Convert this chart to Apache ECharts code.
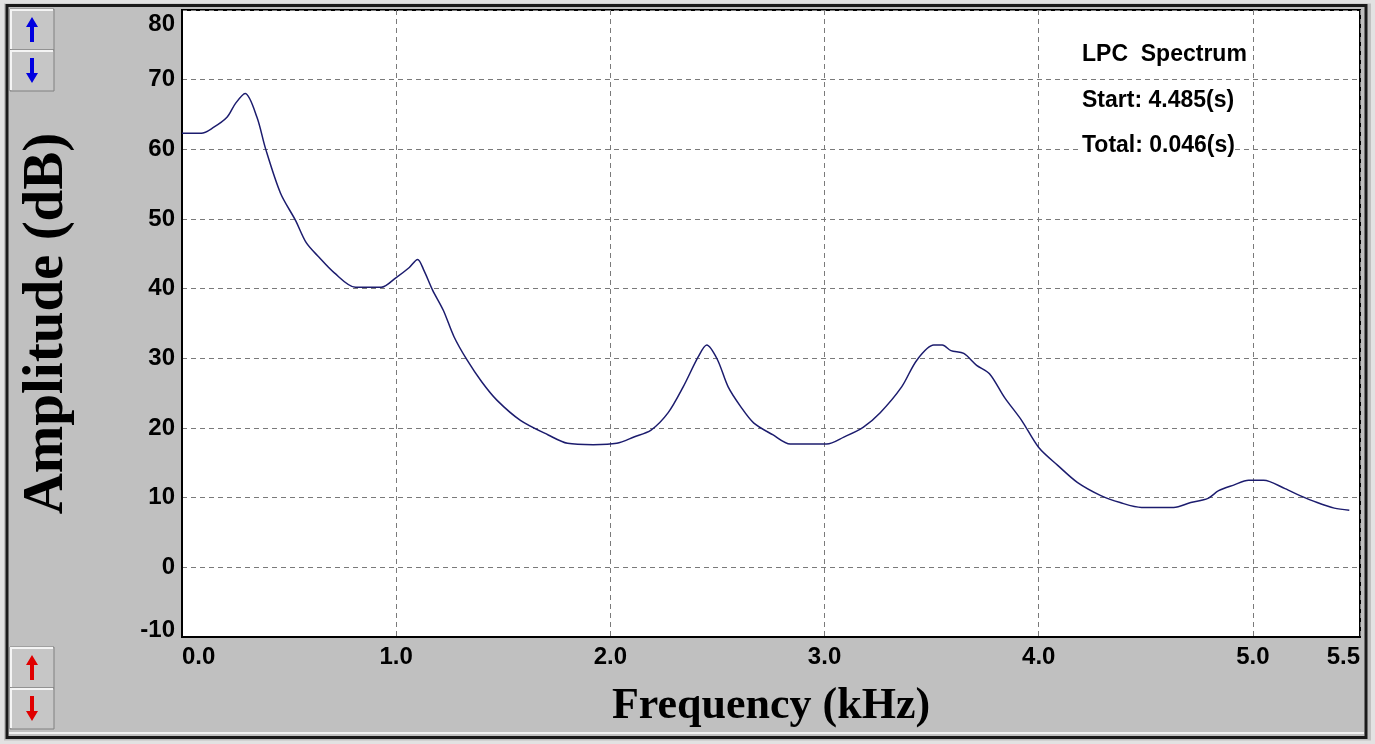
<!DOCTYPE html>
<html>
<head>
<meta charset="utf-8">
<title>LPC Spectrum</title>
<script src="https://cdn.jsdelivr.net/npm/echarts@6/dist/echarts.min.js"></script>
<style>
  html, body { margin: 0; padding: 0; background: #c0c0c0; }
  #main { width: 1375px; height: 744px; }
</style>
</head>
<body>
<div id="main"></div>
<script>
// 频率 (kHz) 与幅度 (dB)
var freqs = [0, 0.09, 0.145, 0.21, 0.25, 0.295, 0.35, 0.39, 0.46, 0.53, 0.58, 0.64, 0.71, 0.81, 0.93,
  1.0, 1.06, 1.10, 1.13, 1.17, 1.22, 1.27, 1.33, 1.40, 1.47, 1.58, 1.71, 1.80, 1.92, 2.03, 2.11,
  2.19, 2.27, 2.34, 2.41, 2.45, 2.50, 2.55, 2.61, 2.67, 2.76, 2.84, 3.01, 3.09, 3.18, 3.26, 3.36,
  3.43, 3.51, 3.55, 3.59, 3.65, 3.71, 3.77, 3.84, 3.92, 4.0, 4.09, 4.18, 4.29, 4.38, 4.48, 4.63,
  4.71, 4.79, 4.84, 4.91, 4.98, 5.05, 5.15, 5.22, 5.30, 5.38, 5.45];
var amps = [62.3, 62.3, 63.1, 64.6, 66.6, 68.0, 64.6, 60.1, 53.7, 49.8, 46.6, 44.5, 42.3, 40.2, 40.2,
  41.6, 43.0, 44.2, 42.6, 39.8, 36.9, 33.1, 29.8, 26.6, 24.0, 21.1, 19.0, 17.8, 17.6, 17.8, 18.7,
  19.7, 22.2, 25.9, 30.2, 31.9, 29.8, 25.9, 23.0, 20.7, 19.0, 17.7, 17.7, 18.7, 20.1, 22.2, 25.9,
  29.7, 31.9, 31.9, 31.1, 30.7, 29.0, 27.8, 24.4, 21.1, 17.2, 14.6, 12.2, 10.3, 9.3, 8.6, 8.6,
  9.3, 9.9, 11.0, 11.8, 12.5, 12.5, 11.3, 10.3, 9.3, 8.5, 8.2];
var infoLines = ['LPC  Spectrum', 'Start: 4.485(s)', 'Total: 0.046(s)'];

var labelFont = '"Liberation Sans", Arial, sans-serif';

// 窗口上的小按钮
function button(y, up, color) {
  var cx = 32, top = y + 8, bottom = y + 33;
  var pts = up
    ? [[cx, top], [cx + 6, top + 10], [cx + 2, top + 10], [cx + 2, bottom], [cx - 2, bottom], [cx - 2, top + 10], [cx - 6, top + 10]]
    : [[cx, bottom], [cx + 6, bottom - 10], [cx + 2, bottom - 10], [cx + 2, top], [cx - 2, top], [cx - 2, bottom - 10], [cx - 6, bottom - 10]];
  return {
    type: 'group',
    children: [
      { type: 'rect', shape: { x: 10, y: y, width: 44, height: 41 }, style: { fill: '#c6c6c6', stroke: '#808080', lineWidth: 1 } },
      { type: 'polyline', shape: { points: [[11, y + 40], [11, y + 1], [53, y + 1]] }, style: { stroke: '#f4f4f4', lineWidth: 2, fill: null } },
      { type: 'polygon', shape: { points: pts }, style: { fill: color } }
    ]
  };
}

var myChart = echarts.init(document.getElementById('main'));

var data = freqs.map(function (f, i) { return [f, amps[i]]; });

var option = {
  backgroundColor: '#c0c0c0',
  animation: false,
  grid: {
    left: 182, right: 15, top: 10, bottom: 107,
    show: true, backgroundColor: '#ffffff', borderColor: '#000', borderWidth: 2
  },
  xAxis: {
    type: 'value',
    min: 0, max: 5.5, interval: 1,
    name: 'Frequency (kHz)',
    nameLocation: 'middle',
    nameGap: 48,
    nameTextStyle: { fontFamily: '"Liberation Serif", serif', fontWeight: 'bold', fontSize: 44, color: '#000' },
    axisLine: { show: true, onZero: false, lineStyle: { color: '#000', width: 2 } },
    axisTick: { show: false },
    axisLabel: {
      fontFamily: labelFont, fontWeight: 'bold', fontSize: 24, color: '#000', margin: 8,
      alignMinLabel: 'left', alignMaxLabel: 'right',
      formatter: function (v) { return v.toFixed(1); }
    },
    splitLine: { show: true, lineStyle: { color: '#7a7a7a', type: [5, 4], width: 1 } }
  },
  yAxis: {
    type: 'value',
    min: -10, max: 80, interval: 10,
    name: 'Amplitude (dB)',
    nameLocation: 'middle',
    nameGap: 106,
    nameTextStyle: { fontFamily: '"Liberation Serif", serif', fontWeight: 'bold', fontSize: 57, color: '#000' },
    axisLine: { show: true, lineStyle: { color: '#000', width: 2 } },
    axisTick: { show: false },
    axisLabel: {
      fontFamily: labelFont, fontWeight: 'bold', fontSize: 24, color: '#000', margin: 7,
      // 两端的刻度字往里挪
      formatter: function (v) {
        if (v === 80) return '{top|' + v + '}';
        if (v === -10) return '{bot|' + v + '}';
        return String(v);
      },
      rich: {
        top: { fontFamily: labelFont, fontWeight: 'bold', fontSize: 24, color: '#000', padding: [28, 0, 0, 0] },
        bot: { fontFamily: labelFont, fontWeight: 'bold', fontSize: 24, color: '#000', padding: [0, 0, 14, 0] }
      }
    },
    splitLine: { show: true, lineStyle: { color: '#7a7a7a', type: [5, 4], width: 1 } }
  },
  graphic: [
    { type: 'rect', z: 100, shape: { x: 2, y: 1.5, width: 1371, height: 741 }, style: { fill: null, stroke: '#e2e2e2', lineWidth: 4 } },
    { type: 'rect', z: 100, shape: { x: 7, y: 5.5, width: 1359, height: 732 }, style: { fill: null, stroke: '#1a1a1a', lineWidth: 3 } },
    { type: 'line', z: 100, shape: { x1: 9, y1: 733, x2: 1364, y2: 733 }, style: { stroke: '#f0f0f0', lineWidth: 2 } },
    button(9, true, '#0000e0'),
    button(50, false, '#0000e0'),
    button(647, true, '#e00000'),
    button(688, false, '#e00000'),
    { type: 'text', z: 50, left: 1082, top: 43, style: { text: infoLines[0], font: 'bold 23px ' + labelFont, fill: '#000', backgroundColor: '#fff' } },
    { type: 'text', z: 50, left: 1082, top: 89, style: { text: infoLines[1], font: 'bold 23px ' + labelFont, fill: '#000', backgroundColor: '#fff' } },
    { type: 'text', z: 50, left: 1082, top: 134, style: { text: infoLines[2], font: 'bold 23px ' + labelFont, fill: '#000', backgroundColor: '#fff' } }
  ],
  series: [
    {
      type: 'line',
      data: data,
      showSymbol: false,
      smooth: 0.3,
      lineStyle: { color: '#1c1c6e', width: 1.5 }
    }
  ]
};

myChart.setOption(option);
</script>
</body>
</html>
